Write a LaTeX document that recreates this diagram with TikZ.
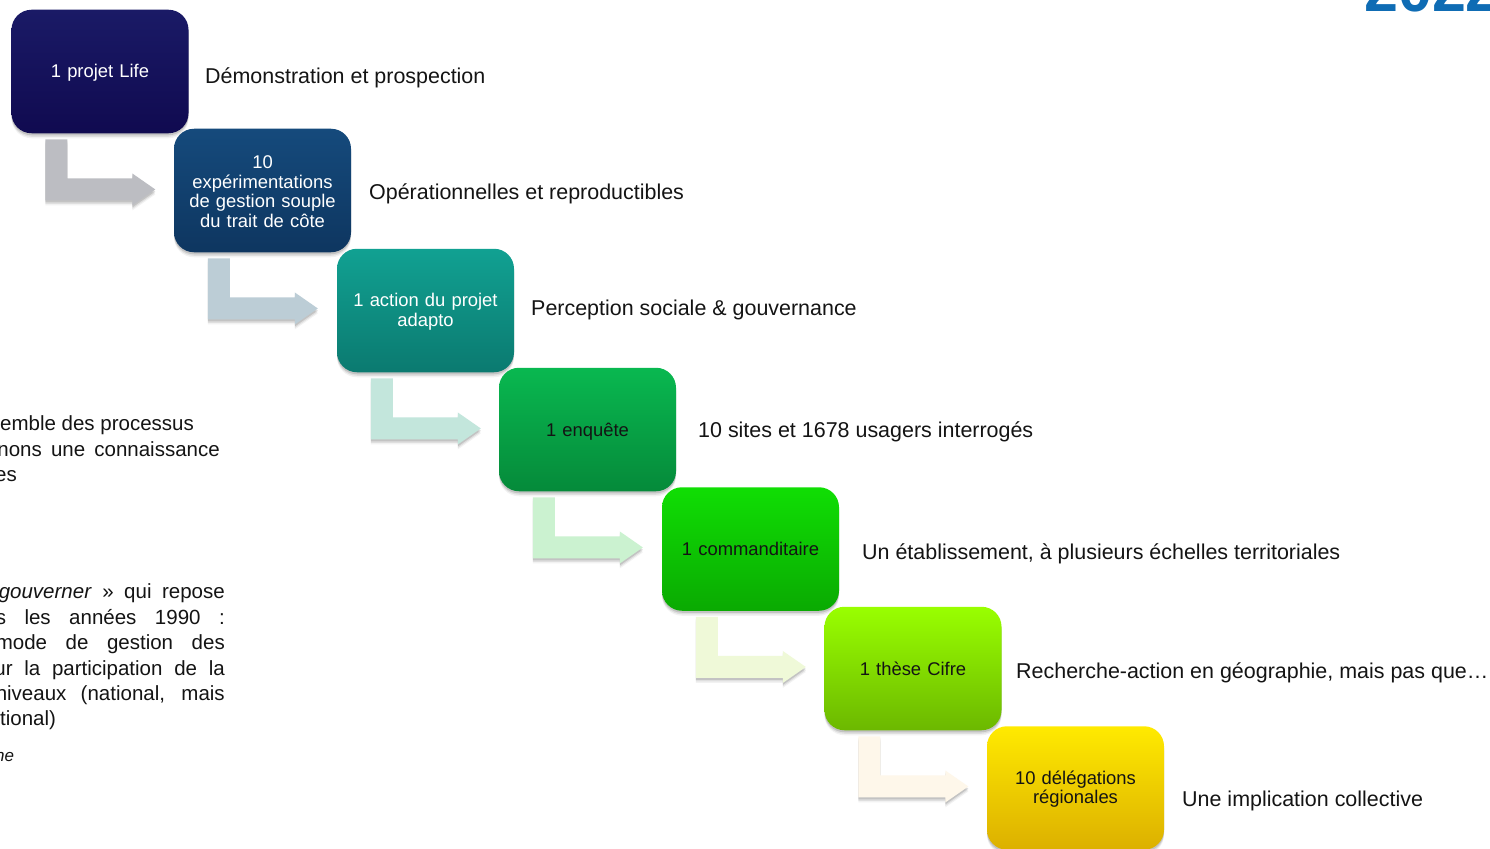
\documentclass[tikz,border=0pt]{standalone}
\usepackage{fontspec}
\setmainfont{Liberation Sans}
\usetikzlibrary{calc,shadows}
\definecolor{tbluec}{HTML}{0F6CB4}
\definecolor{inkc}{HTML}{141414}
\definecolor{bAt}{HTML}{1A1A66}\definecolor{bAb}{HTML}{100A50}
\definecolor{bBt}{HTML}{154A7C}\definecolor{bBb}{HTML}{0E3660}
\definecolor{bCt}{HTML}{11A192}\definecolor{bCb}{HTML}{0B7A70}
\definecolor{bDt}{HTML}{09B850}\definecolor{bDb}{HTML}{058A3A}
\definecolor{bEt}{HTML}{10DE04}\definecolor{bEb}{HTML}{0AAA02}
\definecolor{bFt}{HTML}{99FF00}\definecolor{bFb}{HTML}{6CB800}
\definecolor{bGt}{HTML}{FFEA00}\definecolor{bGb}{HTML}{DCB000}
\definecolor{aA}{HTML}{BCBDC2}
\definecolor{aB}{HTML}{BCCDD6}
\definecolor{aC}{HTML}{C3E6DC}
\definecolor{aD}{HTML}{CBF2D0}
\definecolor{aE}{HTML}{EFF9D8}
\definecolor{aF}{HTML}{FEF7EA}
\newcommand{\topstrut}[1]{\rule{0pt}{#1pt}}
\tikzset{
  softshadow/.style={
    general shadow={shadow xshift=0pt,shadow yshift=-5pt,fill=black,opacity=.05},
    general shadow={shadow xshift=0pt,shadow yshift=-3.5pt,fill=black,opacity=.08},
    general shadow={shadow xshift=0pt,shadow yshift=-2pt,fill=black,opacity=.12}},
  stepbox/.style 2 args={rounded corners=20pt,minimum width=177pt,minimum height=123.5pt,inner sep=0pt,
    softshadow,top color=#1,bottom color=#2,align=center,text width=165pt,
    font=\fontsize{18.4}{19.6}\selectfont},
  sidelabel/.style={anchor=base west,inner sep=0pt,text=inkc,font=\fontsize{21.45}{24}\selectfont},
  lefttext/.style={anchor=base east,inner sep=0pt,text=inkc,font=\fontsize{20.5}{24}\selectfont},
  leftstart/.style={anchor=base west,inner sep=0pt,text=inkc,font=\fontsize{20.5}{24}\selectfont},
}
\newcommand{\elbow}[2]{%
  \fill[#2,softshadow] ($(#1.south west)+(34,6)$) -- ++(22,0) -- ++(0,39) -- ++(65,0) -- ++(0,-5)
    -- ++(23,16) -- ++(-23,16) -- ++(0,-5) -- ++(-87,0) -- cycle;}
\begin{document}
\begin{tikzpicture}[x=1pt,y=-1pt]
\useasboundingbox (0,0) rectangle (1490,848);
\clip (0,0) rectangle (1490,848);
\fill[white] (0,0) rectangle (1490,848);
% year, cut by the top edge
\node[anchor=base west,inner sep=0pt,text=tbluec,font=\fontsize{61}{61}\selectfont\bfseries] (year) at (1364,11.5) {2022};
% left text, cut by the left edge
\node[leftstart] (l1) at (0,430) {emble des processus};
\node[lefttext] (l2) at (220,456) {\makebox[222.4pt][s]{nons une connaissance}};
\node[leftstart] (l3) at (-5,481) {es};
\node[lefttext] (l4) at (225,598) {\makebox[226pt][s]{\textit{gouverner} » qui repose}};
\node[lefttext] (l5) at (225,624) {\makebox[229pt][s]{s les années 1990 :}};
\node[lefttext] (l6) at (225,649) {\makebox[229pt][s]{mode de gestion des}};
\node[lefttext] (l7) at (225,675) {\makebox[230.4pt][s]{ur la participation de la}};
\node[lefttext] (l8) at (225,700) {\makebox[229pt][s]{niveaux (national, mais}};
\node[leftstart] (l9) at (0,725) {tional)};
\node[leftstart,font=\fontsize{17}{20}\selectfont\itshape] (l10) at (-5,761) {ne};
% boxes
\node[stepbox={bAt}{bAb},text=white] (b1) at (100,71.5) {\topstrut{15.4}1 projet Life};
\node[stepbox={bBt}{bBb},text=white] (b2) at (262.5,190.5) {\topstrut{15.2}10\\expérimentations\\de gestion souple\\du trait de côte};
\node[stepbox={bCt}{bCb},text=white] (b3) at (425.5,310.5) {\topstrut{15.4}1 action du projet\\adapto};
\node[stepbox={bDt}{bDb},text=inkc] (b4) at (587.5,429.5) {\topstrut{17.7}1 enquête};
\node[stepbox={bEt}{bEb},text=inkc] (b5) at (750.5,549) {1 commanditaire};
\node[stepbox={bFt}{bFb},text=inkc] (b6) at (913,668.5) {1 thèse Cifre};
\node[stepbox={bGt}{bGb},text=inkc] (b7) at (1075.5,788) {\topstrut{15.6}10 délégations\\régionales};
% elbow arrows
\elbow{b1}{aA}
\elbow{b2}{aB}
\elbow{b3}{aC}
\elbow{b4}{aD}
\elbow{b5}{aE}
\elbow{b6}{aF}
% side labels
\node[sidelabel] (s1) at (205,84) {Démonstration et prospection};
\node[sidelabel] (s2) at (369,199) {Opérationnelles et reproductibles};
\node[sidelabel] (s3) at (531,315) {Perception sociale \& gouvernance};
\node[sidelabel] (s4) at (698,437) {10 sites et 1678 usagers interrogés};
\node[sidelabel] (s5) at (862,559) {Un établissement, à plusieurs échelles territoriales};
\node[sidelabel] (s6) at (1016,678) {Recherche-action en géographie, mais pas que…};
\node[sidelabel] (s7) at (1182,806) {Une implication collective};
\end{tikzpicture}
\end{document}
